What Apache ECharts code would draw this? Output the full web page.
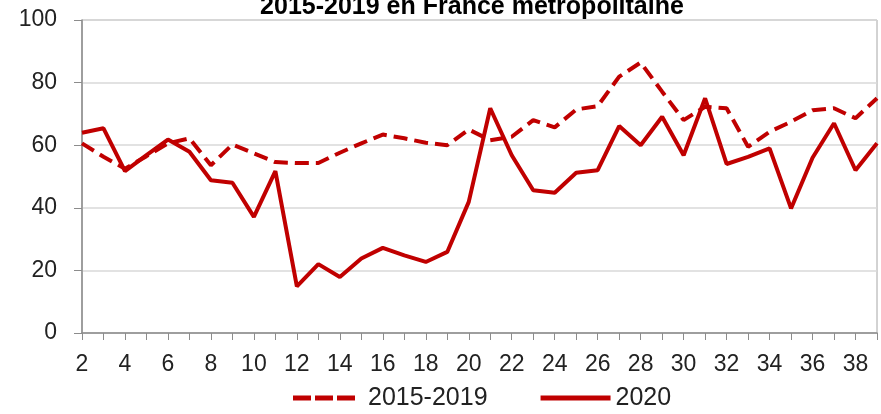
<!DOCTYPE html>
<html>
<head>
<meta charset="utf-8">
<script src="https://cdn.jsdelivr.net/npm/echarts@6/dist/echarts.min.js"></script>
<style>
  html, body { margin: 0; padding: 0; background: #fff; }
  #chart { width: 881px; height: 414px; }
</style>
</head>
<body>
<div id="chart"></div>
<script>
// semaines 2 a 39
var weeks = ['2', '3', '4', '5', '6', '7', '8', '9', '10', '11', '12', '13', '14',
             '15', '16', '17', '18', '19', '20', '21', '22', '23', '24', '25', '26',
             '27', '28', '29', '30', '31', '32', '33', '34', '35', '36', '37', '38', '39'];

var moyenne = [60.6, 56.3, 52.5, 56.5, 60.6, 62.2, 53.6, 60.2, 57.4, 54.6,
               54.3, 54.3, 57.6, 60.6, 63.4, 62.2, 60.8, 60.0, 65.0, 61.6,
               62.7, 68.0, 65.7, 71.4, 72.5, 81.9, 86.4, 77.1, 68.0, 72.3,
               71.8, 59.5, 64.3, 67.5, 71.2, 71.8, 68.6, 75.0];
var annee2020 = [64.0, 65.4, 51.7, 56.8, 61.8, 57.9, 48.8, 48.0, 37.1, 51.7,
                 14.9, 22.0, 17.9, 23.8, 27.2, 24.8, 22.7, 25.9, 41.9, 71.8,
                 56.8, 45.6, 44.8, 51.2, 52.0, 66.1, 60.0, 69.1, 56.8, 75.0,
                 54.0, 56.3, 59.0, 39.8, 56.0, 67.0, 52.0, 60.6];

var red = '#c00000';
var font = 'Liberation Sans, Arial, sans-serif';

// icones de legende (le petit point a droite garde la largeur de la boite)
var dashIcon = 'path://M0,0h18v5h-18z M22,0h18v5h-18z M44,0h18v5h-18z M69.9,2.5h0.1v0.1h-0.1z';
var solidIcon = 'path://M0,0h70v5h-70z';

var chart = echarts.init(document.getElementById('chart'));
chart.setOption({
    animation: false,
    title: {
        text: '2015-2019 en France métropolitaine',
        left: 472,
        textAlign: 'center',
        top: -5,
        padding: 0,
        textStyle: { fontFamily: font, fontSize: 25, fontWeight: 'bold', color: '#000' }
    },
    grid: {
        left: 82, right: 4, top: 20, bottom: 81,
        show: true, borderColor: '#a6a6a6', borderWidth: 1
    },
    legend: {
        top: 385.5,
        left: 293,
        padding: 0,
        itemWidth: 70,
        itemHeight: 5,
        itemGap: 53,
        textStyle: { fontFamily: font, fontSize: 25, color: '#222' },
        data: [
            { name: '2015-2019', icon: dashIcon },
            { name: '2020', icon: solidIcon }
        ]
    },
    xAxis: {
        type: 'category',
        boundaryGap: false,
        data: weeks,
        axisLine: { lineStyle: { color: '#8c8c8c', width: 1.5 } },
        axisTick: { show: true, interval: 0, length: 7, lineStyle: { color: '#8c8c8c' } },
        axisLabel: { interval: 1, margin: 20, fontFamily: font, fontSize: 23, color: '#222' }
    },
    yAxis: {
        type: 'value',
        min: 0, max: 100, interval: 20,
        axisLine: { show: true, lineStyle: { color: '#8c8c8c', width: 1.5 } },
        axisTick: { show: true, length: 8, lineStyle: { color: '#8c8c8c' } },
        axisLabel: { margin: 25, fontFamily: font, fontSize: 23, color: '#222' },
        splitLine: { lineStyle: { color: '#d9d9d9', width: 1.5 } }
    },
    series: [{
        name: '2015-2019',
        type: 'line',
        data: moyenne,
        symbol: 'none',
        lineStyle: { color: red, width: 4, type: [14, 7] },
        itemStyle: { color: red }
    }, {
        name: '2020',
        type: 'line',
        data: annee2020,
        symbol: 'none',
        lineStyle: { color: red, width: 4 },
        itemStyle: { color: red }
    }]
});
</script>
</body>
</html>
